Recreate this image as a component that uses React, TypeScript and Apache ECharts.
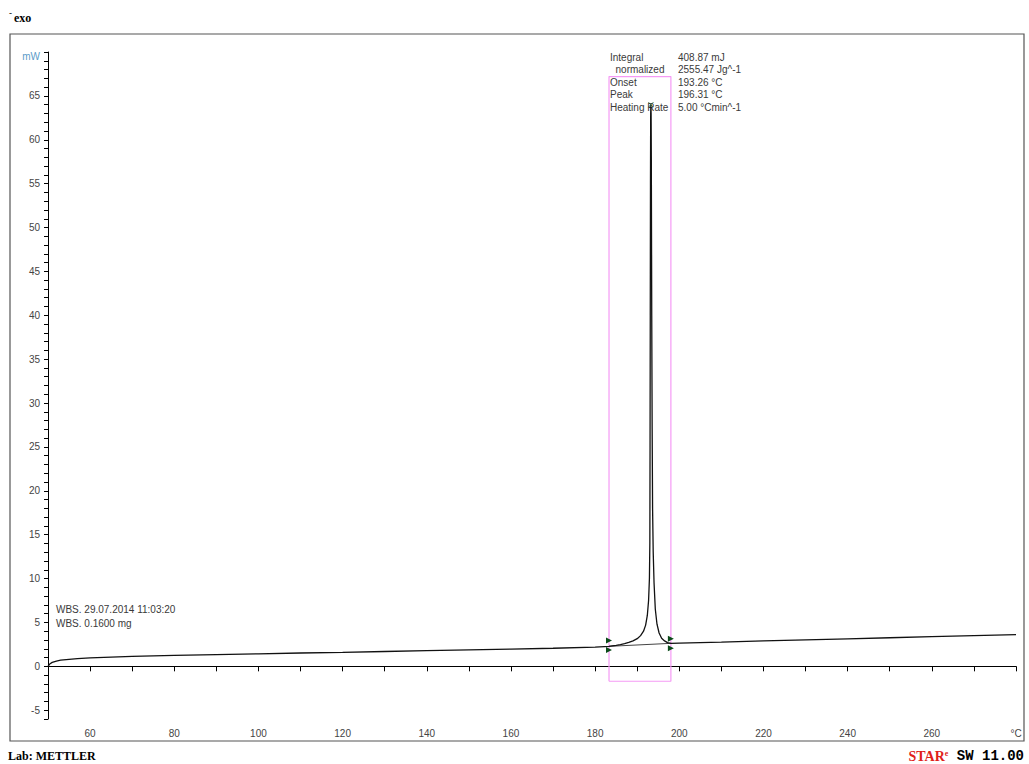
import React, { useEffect, useRef } from "react";
import * as echarts from "echarts";

// Main DSC curve (°C, mW)
const curveX = [50, 50.5, 51, 52, 53, 55, 57, 60, 65, 70, 80, 90, 100, 110, 120, 130, 140, 150, 160, 170, 180, 183.3,
  184, 185, 186, 187, 188, 189, 190, 190.8, 191.5, 192.0, 192.4, 192.7, 192.9, 193.0, 193.05, 193.1, 193.15, 193.2, 193.25,
  193.3, 193.35, 193.45, 193.55, 193.65, 193.8, 194.0, 194.3, 194.7, 195.2, 195.8, 196.5, 197.2, 198,
  200, 210, 220, 230, 240, 250, 260, 270, 280];
const curveY = [0.0, 0.3, 0.45, 0.6, 0.7, 0.8, 0.88, 0.97, 1.06, 1.13, 1.25, 1.34, 1.43, 1.52, 1.6, 1.69, 1.78, 1.87, 1.96, 2.06, 2.2, 2.28,
  2.33, 2.4, 2.48, 2.58, 2.72, 2.9, 3.15, 3.5, 4.0, 4.7, 5.8, 7.5, 10, 14, 25, 40, 55, 63, 64,
  63, 58, 40, 27, 18, 13, 9.5, 6.5, 4.8, 3.8, 3.2, 2.9, 2.7, 2.62,
  2.65, 2.77, 2.9, 3.02, 3.14, 3.26, 3.38, 3.5, 3.62];

// Integration baseline
const baseX = [183.3, 198];
const baseY = [2.28, 2.62];

// Evaluation window box
const boxX = [183.3, 183.3, 198, 198, 183.3];
const boxY = [-1.7, 67.2, 67.2, -1.7, -1.7];

// Limit markers
const markX = [183.3, 183.3, 198, 198];
const markY = [2.95, 1.85, 3.15, 2.05];
const peakMark = [193.25, 64];

const xTickLabels = [60, 80, 100, 120, 140, 160, 180, 200, 220, 240, 260];
const yTickLabels = [-5, 0, 5, 10, 15, 20, 25, 30, 35, 40, 45, 50, 55, 60, 65];

const resultLabels = ["Integral", "  normalized", "Onset", "Peak", "Heating Rate"];
const resultValues = ["408.87 mJ", "2555.47 Jg^-1", "193.26 °C", "196.31 °C", "5.00 °Cmin^-1"];
const sampleLines = ["WBS. 29.07.2014 11:03:20", "WBS. 0.1600 mg"];

const FONT = "'Liberation Sans', sans-serif";
const NARROW = "'Liberation Sans Narrow', 'Liberation Sans', sans-serif";
const TXT = "#3a3a3a";

export default function App() {
  const ref = useRef<HTMLDivElement>(null);
  useEffect(() => {
    document.body.style.margin = "0";
    const chart = echarts.init(ref.current!, null, { renderer: "svg" });
    const zip = (xs: number[], ys: number[]) => xs.map((x, i) => [x, ys[i]]);
    const graphics: any[] = [
      { type: "rect", shape: { x: 10, y: 34, width: 1014, height: 707 }, style: { fill: "none", stroke: "#555", lineWidth: 1.2 }, silent: true },
      { type: "text", x: 9, y: 8, style: { text: "-", font: "bold 9px 'Liberation Serif'", fill: "#000" } },
      { type: "text", x: 14, y: 12, style: { text: "exo", font: "bold 12px 'Liberation Serif', serif", fill: "#000" } },
      { type: "text", x: 8, y: 750, style: { text: "Lab: METTLER", font: "bold 12px 'Liberation Serif', serif", fill: "#000" } },
      {
        type: "text", x: 1024, y: 749,
        style: {
          text: "{r|STAR}{s|e}{b| SW 11.00}", align: "right",
          rich: {
            r: { font: "bold 14px 'Liberation Serif', serif", fill: "#e0201a" },
            s: { font: "bold 8px 'Liberation Serif', serif", fill: "#e0201a", verticalAlign: "top", padding: [0, 0, 6, 0] },
            b: { font: "bold 14px 'Liberation Mono', monospace", fill: "#000" },
          },
        },
      },
    ];
    resultLabels.forEach((t, i) => {
      graphics.push({ type: "text", x: 610, y: 52 + i * 12.5, style: { text: t, font: `10px ${FONT}`, fill: TXT } });
      graphics.push({ type: "text", x: 678, y: 52 + i * 12.5, style: { text: resultValues[i], font: `10px ${FONT}`, fill: TXT } });
    });
    sampleLines.forEach((t, i) => {
      graphics.push({ type: "text", x: 56, y: 604 + i * 14, style: { text: t, font: `10px ${NARROW}`, fill: TXT } });
    });

    chart.setOption({
      animation: false,
      grid: { left: 48, right: 13, top: 52, bottom: 45, containLabel: false },
      xAxis: {
        type: "value", min: 50, max: 280, interval: 10,
        axisLine: { lineStyle: { color: "#000", width: 1 } },
        axisTick: { inside: false, length: 5, lineStyle: { color: "#000" } },
        splitLine: { show: false },
        axisLabel: {
          color: "#444", fontSize: 10, fontFamily: FONT, margin: 9,
          showMinLabel: true, showMaxLabel: true,
          formatter: (v: number) => (v === 280 ? "°C" : xTickLabels.includes(v) ? String(v) : ""),
        },
      },
      yAxis: {
        type: "value", min: -6, max: 70, interval: 1,
        axisLine: { show: true, lineStyle: { color: "#000", width: 1 } },
        axisTick: { show: true, inside: false, length: 4, lineStyle: { color: "#000" } },
        splitLine: { show: false },
        axisLabel: {
          fontSize: 10, fontFamily: FONT, margin: 8,
          showMinLabel: true, showMaxLabel: true,
          formatter: (v: number) => (v === 70 ? "{m|mW}" : yTickLabels.includes(v) ? String(v) : ""),
          color: "#444",
          rich: { m: { color: "#5b9bc8", fontSize: 10, fontFamily: FONT, padding: [8, 0, 0, 0] } },
        },
      },
      series: [
        {
          type: "line", data: zip(boxX, boxY), symbol: "none", silent: true,
          lineStyle: { color: "#f59af5", width: 1.2 },
        },
        {
          type: "line", data: zip(baseX, baseY), symbol: "none", silent: true,
          lineStyle: { color: "#444", width: 1 },
        },
        {
          type: "line", data: zip(curveX, curveY), symbol: "none", silent: true,
          lineStyle: { color: "#111", width: 1.3 },
        },
        {
          type: "scatter", data: zip(markX, markY), symbol: "triangle", symbolSize: 6, symbolRotate: -90,
          itemStyle: { color: "#0b4a1a", opacity: 1 }, silent: true, z: 5,
        },
        {
          type: "scatter", data: [peakMark], symbol: "path://M0,0L10,10M10,0L0,10", symbolSize: 5,
          itemStyle: { color: "none", borderColor: "#0b4a1a", borderWidth: 1 }, silent: true, z: 5,
        },
      ],
      graphic: graphics,
    });
    return () => chart.dispose();
  }, []);
  return <div ref={ref} style={{ width: 1029, height: 764 }} />;
}
